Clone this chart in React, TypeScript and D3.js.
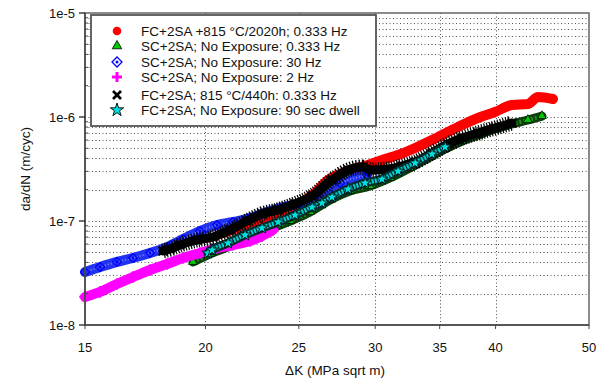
import React from "react";
import * as d3 from "d3";

const W = 603;
const H = 379;
const PL = 85, PR = 589, PT = 13, PB = 325;

const xTickValues = [15, 20, 25, 30, 35, 40, 50];
const xGridValues = [20, 25, 30, 35, 40];
const yTickValues = [1e-8, 1e-7, 1e-6, 1e-5];
const yTickLabels = ["1e-8", "1e-7", "1e-6", "1e-5"];

const redData: [number, number][] = [
  [20.71, 7.5e-8], [21.46, 8.38e-8], [22.25, 9.36e-8], [22.89, 1.02e-7], [23.9, 1.22e-7],
  [25.07, 1.49e-7], [25.98, 1.86e-7], [26.8, 2.48e-7], [27.92, 2.96e-7], [29.28, 3.38e-7],
  [30.49, 3.86e-7], [31.68, 4.31e-7], [33.0, 5.03e-7], [34.36, 6.01e-7], [35.7, 7.17e-7],
  [36.92, 8.38e-7], [38.35, 9.78e-7], [39.94, 1.117e-6], [41.6, 1.304e-6], [43.22, 1.334e-6],
  [44.27, 1.557e-6], [45.88, 1.49e-6],
];
const greenData: [number, number][] = [
  [19.42, 4.04e-8], [20.22, 4.82e-8], [21.21, 5.75e-8], [22.25, 7.02e-8], [23.34, 8.38e-8],
  [24.48, 1.0e-7], [25.68, 1.22e-7], [26.93, 1.59e-7], [28.25, 1.94e-7], [29.63, 2.17e-7],
  [31.08, 2.59e-7], [32.6, 3.23e-7], [34.2, 4.12e-7], [35.45, 4.92e-7], [36.92, 5.88e-7],
  [38.35, 6.71e-7], [39.94, 7.67e-7], [41.6, 8.56e-7], [43.22, 9.36e-7], [44.69, 1.02e-6],
];
const blueData: [number, number][] = [
  [15.0, 3.23e-8], [15.55, 3.61e-8], [16.19, 4.04e-8], [16.82, 4.41e-8], [17.52, 4.92e-8],
  [18.25, 5.62e-8], [18.96, 6.7e-8], [19.74, 8.0e-8], [20.56, 9.15e-8], [21.36, 9.78e-8],
  [22.25, 1.07e-7], [23.17, 1.22e-7], [24.07, 1.36e-7], [25.07, 1.49e-7], [26.11, 1.78e-7],
  [27.58, 2.32e-7], [29.42, 2.77e-7],
];
const magentaData: [number, number][] = [
  [15.0, 1.86e-8], [15.55, 2.08e-8], [16.19, 2.48e-8], [16.82, 2.89e-8], [17.52, 3.38e-8],
  [18.25, 3.86e-8], [18.96, 4.41e-8], [19.74, 4.92e-8], [20.56, 5.5e-8], [21.36, 5.88e-8],
  [22.25, 6.42e-8], [22.89, 7.17e-8], [23.5, 8.19e-8],
];
const blackData: [number, number][] = [
  [18.07, 5.15e-8], [18.38, 5.38e-8], [18.82, 5.88e-8], [19.6, 6.57e-8], [20.37, 7.02e-8],
  [21.21, 8.19e-8], [22.09, 1.0e-7], [22.89, 1.17e-7], [23.79, 1.28e-7], [24.77, 1.46e-7],
  [25.8, 1.74e-7], [27.06, 2.48e-7], [28.12, 3.09e-7], [29.07, 3.31e-7], [29.77, 3.09e-7],
  [30.93, 3.16e-7], [31.99, 3.38e-7], [33.0, 3.69e-7], [34.36, 4.51e-7], [35.7, 5.5e-7],
  [36.92, 6.28e-7], [38.35, 7.02e-7], [39.94, 7.84e-7], [41.6, 8.76e-7],
];
const cyanData: [number, number][] = [
  [20.12, 4.92e-8], [20.32, 5.26e-8], [21.11, 6.14e-8], [21.98, 7.34e-8], [22.89, 8.56e-8],
  [23.79, 9.78e-8], [24.77, 1.14e-7], [25.8, 1.36e-7], [26.42, 1.49e-7], [27.06, 1.7e-7],
  [28.12, 2.03e-7], [29.28, 2.32e-7], [30.49, 2.53e-7], [31.68, 3.02e-7], [33.0, 3.61e-7],
  [34.36, 4.41e-7], [35.45, 5.15e-7],
];

const seriesNames = [
  "FC+2SA +815 \u00B0C/2020h; 0.333 Hz",
  "SC+2SA; No Exposure; 0.333 Hz",
  "SC+2SA; No Exposure: 30 Hz",
  "SC+2SA; No Exposure: 2 Hz",
  "FC+2SA; 815 \u00B0C/440h: 0.333 Hz",
  "FC+2SA; No Exposure: 90 sec dwell",
];
const seriesData = [redData, greenData, blueData, magentaData, blackData, cyanData];
const markerTypes = ["circle", "triangle", "diamond", "plus", "cross", "star"];

const FONT = "'Liberation Sans', Arial, sans-serif";

const x = d3.scaleLog().domain([15, 50]).range([PL, PR]);
const y = d3.scaleLog().domain([1e-8, 1e-5]).range([PB, PT]);

function Marker({ type, cx, cy, s = 1, inPlot = false }: { type: string; cx: number; cy: number; s?: number; inPlot?: boolean }) {
  const t = `translate(${cx},${cy}) scale(${s})`;
  switch (type) {
    case "circle":
      return <circle cx={cx} cy={cy} r={4.3 * s} fill="#ff0000" />;
    case "triangle":
      return <path transform={t} d={d3.symbol().type(d3.symbolTriangle).size(40)()!} fill="#00c800" stroke="#000" strokeWidth={0.8} />;
    case "diamond":
      return (
        <g transform={t}>
          <path d="M0,-5L5,0L0,5L-5,0Z" fill={inPlot ? "none" : "#fff"} stroke="#0000ff" strokeWidth={1.3} />
          <circle r={1.5} fill="#0000ff" />
        </g>
      );
    case "plus":
      return (
        <g transform={t} stroke="#ff00ff" strokeWidth={3}>
          <line x1={-5} x2={5} y1={0} y2={0} />
          <line x1={0} x2={0} y1={-5} y2={5} />
        </g>
      );
    case "cross":
      return (
        <g transform={t} stroke="#000" strokeWidth={2.6}>
          <line x1={-4} x2={4} y1={-4} y2={4} />
          <line x1={-4} x2={4} y1={4} y2={-4} />
        </g>
      );
    case "star":
      return <path transform={t} d={d3.symbol().type(d3.symbolStar).size(55)()!} fill="#00e0e0" stroke="#000" strokeWidth={0.9} />;
  }
  return null;
}

export default function App() {
  const line = d3.line<[number, number]>().x(d => x(d[0])).y(d => y(d[1])).curve(d3.curveMonotoneX);

  const yMinor: number[] = [];
  for (let e = -8; e < -5; e++) {
    for (let m = 1; m <= 9; m++) {
      const v = m * Math.pow(10, e);
      if (v > 1e-8 * 1.01 && v < 1e-5 * 0.99) yMinor.push(v);
    }
  }

  const bandStyles: { base: string; bw: number; over?: string; ow?: number; dash?: string; jag?: number }[] = [
    { base: "#ff0000", bw: 10 },
    { base: "#0c3f0c", bw: 9, over: "#1f8f1f", ow: 4, dash: "2,2" },
    { base: "#2233f0", bw: 10, over: "#7d88ff", ow: 2, dash: "1,2" },
    { base: "#ff00ff", bw: 10 },
    { base: "#000000", bw: 9, jag: 15 },
    { base: "#062e2e", bw: 9, over: "#00d0d0", ow: 4.5, dash: "2,1.2" },
  ];

  return (
    <svg width={W} height={H} style={{ position: "absolute", left: 0, top: 0, background: "#fff" }} fontFamily={FONT}>
      <rect x={0} y={0} width={W} height={H} fill="#fff" />
      {/* grid */}
      <g stroke="#555" strokeWidth={1} strokeDasharray="1,2.5">
        {yMinor.map((v, i) => (
          <line key={"gy" + i} x1={PL} x2={PR} y1={Math.round(y(v)) + 0.5} y2={Math.round(y(v)) + 0.5} />
        ))}
        {xGridValues.map((v, i) => (
          <line key={"gx" + i} x1={Math.round(x(v)) + 0.5} x2={Math.round(x(v)) + 0.5} y1={PT} y2={PB} />
        ))}
      </g>
      {/* series */}
      {seriesData.map((data, si) => {
        const st = bandStyles[si];
        const d = line(data)!;
        return (
          <g key={"s" + si} fill="none" strokeLinecap="round" strokeLinejoin="round">
            {st.jag && <path d={d} stroke="#000" strokeWidth={st.jag} strokeDasharray="1.2,1.6" strokeLinecap="butt" />}
            <path d={d} stroke={st.base} strokeWidth={st.bw} />
            {st.over && <path d={d} stroke={st.over} strokeWidth={st.ow} strokeDasharray={st.dash} strokeLinecap="butt" />}
            {data.map((p, i) => (
              <Marker key={i} type={markerTypes[si]} cx={x(p[0])} cy={y(p[1])} s={0.9} inPlot />
            ))}
          </g>
        );
      })}
      {/* frame */}
      <rect x={PL} y={PT} width={PR - PL} height={PB - PT} fill="none" stroke="#666" strokeWidth={1.5} />
      <line x1={PL} x2={PL} y1={PT} y2={PB} stroke="#444" strokeWidth={1.5} />
      <line x1={PL} x2={PR} y1={PB} y2={PB} stroke="#444" strokeWidth={1.5} />
      {/* y ticks */}
      {yTickValues.map((v, i) => (
        <g key={"yt" + i}>
          <line x1={PL - 6} x2={PL} y1={y(v)} y2={y(v)} stroke="#222" strokeWidth={1.3} />
          <text x={PL - 10} y={y(v)} dy="0.35em" textAnchor="end" fontSize={13} fill="#111">{yTickLabels[i]}</text>
        </g>
      ))}
      {yMinor.filter(v => Math.abs(Math.log10(v) - Math.round(Math.log10(v))) > 0.01).map((v, i) => (
        <line key={"ym" + i} x1={PL} x2={PL + 3} y1={y(v)} y2={y(v)} stroke="#444" strokeWidth={1} />
      ))}
      {/* x ticks */}
      {xTickValues.map((v, i) => (
        <g key={"xt" + i}>
          <line x1={x(v)} x2={x(v)} y1={PB} y2={PB + 4} stroke="#444" strokeWidth={1} />
          <text x={x(v)} y={347} dy="0.35em" textAnchor="middle" fontSize={13} fill="#111">{v}</text>
        </g>
      ))}
      {/* axis titles */}
      <text x={335} y={370} dy="0.35em" textAnchor="middle" fontSize={13.5} fill="#111">{"\u0394K (MPa sqrt m)"}</text>
      <text transform="translate(25,169) rotate(-90)" textAnchor="middle" dy="0.35em" fontSize={13.5} fill="#111">da/dN (m/cyc)</text>
      {/* legend */}
      <rect x={91} y={15} width={285} height={111} fill="#fff" stroke="#555" strokeWidth={1.8} />
      {seriesNames.map((name, i) => {
        const ly = [31, 46, 62, 77, 95, 110][i];
        return (
          <g key={"lg" + i}>
            <Marker type={markerTypes[i]} cx={117} cy={ly} s={1} />
            <text x={141} y={ly} dy="0.35em" fontSize={13.5} fill="#111">{name}</text>
          </g>
        );
      })}
    </svg>
  );
}
